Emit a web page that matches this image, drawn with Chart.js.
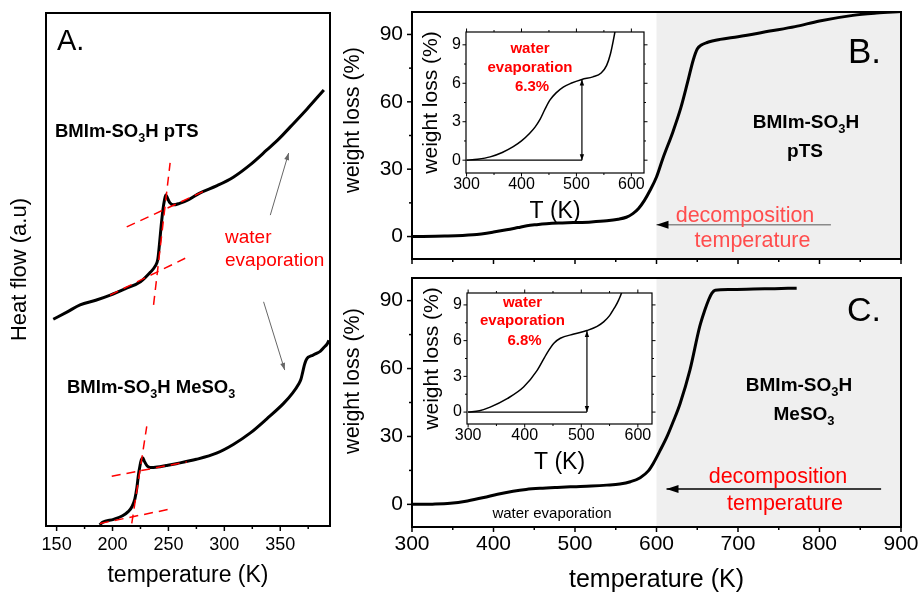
<!DOCTYPE html>
<html>
<head>
<meta charset="utf-8">
<script src="https://cdn.jsdelivr.net/npm/chart.js@4.4.1/dist/chart.umd.min.js"></script>
<style>
html, body { margin: 0; padding: 0; background: #fff; }
#fig { position: relative; width: 920px; height: 595px; }
#fig canvas { position: absolute; left: 0; top: 0; }
</style>
</head>
<body>
<div id="fig">
  <canvas id="dsc" width="920" height="595"></canvas>
  <canvas id="tgaPTS" width="920" height="595"></canvas>
  <canvas id="tgaMeSO3" width="920" height="595"></canvas>
  <canvas id="insetPTS" width="920" height="595"></canvas>
  <canvas id="insetMeSO3" width="920" height="595"></canvas>
</div>
<script>
// ---- DSC traces (A), heat flow in arbitrary units ----
const dscT_pTS = [147, 160, 171, 185, 198, 212, 225, 234, 238, 240.5, 242, 243.5, 245, 246.5, 247.7, 249, 251, 254.5, 260, 268, 278, 293, 308, 323, 338, 349, 359, 374, 389];
const dscHF_pTS = [40.3, 41.8, 43.1, 44.0, 45.0, 46.3, 47.6, 49.5, 50.6, 52.0, 55.0, 58.5, 61.5, 63.6, 64.5, 64.0, 63.1, 62.6, 62.9, 63.6, 64.9, 66.3, 68.0, 70.4, 73.3, 75.5, 77.8, 81.3, 85.0];
const dscT_MeSO3 = [188.5, 191, 201, 209, 214, 217.5, 220, 221.8, 223.2, 224.6, 225.8, 227, 228.5, 231, 234, 240, 248, 258, 275, 293, 308, 323, 338, 353, 361, 366.5, 368.5, 370, 371.5, 373, 375, 378, 382, 386, 389, 392, 393.5];
const dscHF_MeSO3 = [0.2, 0.7, 1.3, 2.0, 2.8, 3.8, 5.3, 7.5, 10.0, 11.8, 12.9, 13.3, 12.6, 11.7, 11.4, 11.5, 11.8, 12.2, 13.0, 14.2, 15.9, 18.1, 20.9, 23.9, 25.9, 27.7, 28.6, 29.9, 31.3, 32.3, 32.9, 33.2, 33.6, 34.1, 34.8, 35.5, 36.2];
// tangent lines of the glass-transition onset construction
const tangentsPTS = [[[197.8, 45.0], [265.0, 52.2]], [[236.7, 43.1], [251.5, 70.8]], [[212.7, 58.3], [281.1, 65.2]]];
const tangentsMeSO3 = [[[188.8, 0.5], [251.5, 3.3]], [[217.2, 0.5], [230.6, 19.4]], [[199.3, 9.7], [266.5, 12.5]]];
const dscTicks = [150, 200, 250, 300, 350];
const dscMinor = [175, 225, 275, 325, 375];

// ---- TGA weight loss (B, C) ----
const tgaT_pTS = [300, 340, 375, 400, 416, 430, 441, 453, 465, 480, 498, 520, 539, 553, 563, 571, 578, 585, 592, 600, 608, 620, 630, 638, 645, 650, 655, 662, 678, 700, 739, 770, 800, 841, 870, 900];
const tgaW_pTS = [0, 0.2, 0.8, 2.0, 3.0, 4.0, 4.8, 5.3, 5.7, 6.0, 6.2, 6.5, 7.0, 7.7, 8.6, 10.2, 12.5, 16, 20.5, 26.5, 35, 46.5, 57.5, 68.5, 78.5, 83.5, 85.3, 86.4, 87.8, 89.0, 91.5, 93.5, 96, 98.5, 99.5, 100.2];
const tgaT_MeSO3 = [300, 325, 347, 368, 388, 405, 424, 440, 457, 478, 498, 520, 539, 555, 568, 580, 590, 596, 604, 613, 621, 629, 641, 653, 659, 664, 668, 672, 690, 719, 745, 772];
const tgaW_MeSO3 = [0, 0.1, 0.45, 1.5, 3.0, 4.5, 5.8, 6.6, 7.1, 7.5, 7.8, 8.1, 8.5, 9.0, 10.0, 11.8, 14.8, 18.1, 23.5, 30, 37, 44.6, 59.3, 78.5, 85.5, 90.4, 93.3, 94.6, 94.9, 95.1, 95.3, 95.5];
const tgaTicksX = [300, 400, 500, 600, 700, 800, 900];
const tgaMinorX = [350, 450, 550, 650, 750, 850];
const tgaTicksY = [0, 30, 60, 90];
const tgaMinorY = [15, 45, 75];
const decompositionT = 600;

// ---- insets: low-temperature part of the TGA curves ----
const insetT_pTS = [300, 320, 343, 365, 385, 400, 415, 425, 434, 443, 452, 463, 476, 490, 510, 530, 545, 555, 562, 567, 572, 580];
const insetW_pTS = [0, 0.08, 0.26, 0.6, 1.05, 1.5, 2.1, 2.6, 3.2, 4.0, 4.7, 5.25, 5.7, 6.0, 6.3, 6.5, 6.8, 7.4, 8.3, 9.3, 10.5, 13];
const insetT_MeSO3 = [300, 320, 339, 369, 398, 422, 440, 452, 463, 487, 510, 528, 540, 550, 558, 566, 573, 582];
const insetW_MeSO3 = [0, 0.12, 0.42, 1.13, 2.1, 3.5, 5.0, 5.8, 6.2, 6.55, 6.85, 7.2, 7.6, 8.1, 8.7, 9.4, 10.3, 12.5];
const waterLossPTS = 6.3;
const waterLossMeSO3 = 6.8;
const waterLossT = 510;
const insetTicksX = [300, 400, 500, 600];
const insetMinorX = [350, 450, 550];
const insetTicksY = [0, 3, 6, 9];
const insetMinorY = [1.5, 4.5, 7.5];

const FONT = '"Liberation Sans", Arial, Helvetica, sans-serif';
const RED = '#ff0000';
const W = 920, H = 595;

Chart.defaults.font.family = FONT;
Chart.defaults.color = '#000';
Chart.defaults.animation = false;
Chart.defaults.events = [];
Chart.defaults.plugins.legend.display = false;
Chart.defaults.plugins.tooltip.enabled = false;

const pts = (xs, ys) => xs.map((x, i) => ({x, y: ys[i]}));

const curve = (xs, ys, w) => ({
  data: pts(xs, ys), borderColor: '#000', borderWidth: w,
  pointRadius: 0, cubicInterpolationMode: 'monotone', order: 2
});
const straight = (seg, color, w, dash) => ({
  data: seg.map(([x, y]) => ({x, y})), borderColor: color, borderWidth: w,
  borderDash: dash || [], pointRadius: 0, tension: 0, order: 1
});

// padding that puts the plot box at l,t,r,b with fixed axis sizes
const place = (l, t, r, b, yW, xH) => ({left: l - yW, top: t, right: W - r, bottom: H - b - xH});

function xAxis(o) {
  return {
    type: 'linear', min: o.min, max: o.max,
    grid: {display: false, drawTicks: false}, border: {display: false},
    ticks: {display: !!o.labels, font: {size: o.size}, padding: o.pad || 0, maxRotation: 0, autoSkip: false},
    title: o.title ? {display: true, text: o.title, font: {size: o.titleSize}, padding: {top: 0, bottom: o.titlePad}} : {display: false},
    afterBuildTicks: s => { s.ticks = (o.ticks || []).map(v => ({value: v})); },
    afterFit: s => { s.height = o.h; s.paddingLeft = 0; s.paddingRight = 0; }
  };
}
function yAxis(o) {
  return {
    type: 'linear', min: o.min, max: o.max,
    grid: {display: false, drawTicks: false}, border: {display: false},
    ticks: {display: !!o.labels, font: {size: o.size}, padding: o.pad || 0},
    title: o.title ? {display: true, text: o.title, font: {size: o.titleSize}, padding: {top: o.titlePad, bottom: 0}} : {display: false},
    afterBuildTicks: s => { s.ticks = (o.ticks || []).map(v => ({value: v})); },
    afterFit: s => { s.width = o.w; s.paddingTop = 0; s.paddingBottom = 0; }
  };
}

// plot frame, shaded region and outward tick marks
const framePlugin = {
  id: 'frame',
  beforeDatasetsDraw(chart, args, o) {
    if (!o.lineWidth) return;
    const {ctx, chartArea: a, scales: {x}} = chart;
    ctx.save();
    if (o.fill) { ctx.fillStyle = o.fill; ctx.fillRect(a.left, a.top, a.width, a.height); }
    if (o.shadeFrom != null) {
      const px = x.getPixelForValue(o.shadeFrom);
      ctx.fillStyle = '#efefef';
      ctx.fillRect(px, a.top, a.right - px, a.height);
    }
    ctx.restore();
  },
  afterDatasetsDraw(chart, args, o) {
    if (!o.lineWidth) return;
    const {ctx, chartArea: a, scales: {x, y}} = chart;
    ctx.save();
    ctx.strokeStyle = '#000';
    ctx.lineWidth = o.tickWidth;
    const seg = (x0, y0, x1, y1) => { ctx.beginPath(); ctx.moveTo(x0, y0); ctx.lineTo(x1, y1); ctx.stroke(); };
    const xt = [...(o.xMajor || []).map(v => [v, o.major]), ...(o.xMinor || []).map(v => [v, o.minor])];
    const yt = [...(o.yMajor || []).map(v => [v, o.major]), ...(o.yMinor || []).map(v => [v, o.minor])];
    xt.forEach(([v, len]) => {
      const p = x.getPixelForValue(v);
      seg(p, a.bottom, p, a.bottom + len);
      if (o.mirror) seg(p, a.top, p, a.top - len);
    });
    yt.forEach(([v, len]) => {
      const p = y.getPixelForValue(v);
      seg(a.left, p, a.left - len, p);
      if (o.mirror) seg(a.right, p, a.right + len, p);
    });
    ctx.lineWidth = o.lineWidth;
    ctx.strokeRect(a.left, a.top, a.width, a.height);
    ctx.restore();
  }
};

// annotation arrows given in data units
const arrowsPlugin = {
  id: 'arrows',
  afterDatasetsDraw(chart, args, o) {
    const {ctx, scales: {x, y}} = chart;
    (o.items || []).forEach(it => {
      const x0 = x.getPixelForValue(it.from[0]), y0 = y.getPixelForValue(it.from[1]);
      const x1 = x.getPixelForValue(it.to[0]), y1 = y.getPixelForValue(it.to[1]);
      ctx.save();
      ctx.strokeStyle = it.color;
      ctx.lineWidth = it.width;
      ctx.beginPath(); ctx.moveTo(x0, y0); ctx.lineTo(x1, y1); ctx.stroke();
      const head = (ax, ay, bx, by) => {
        ctx.save();
        ctx.translate(bx, by);
        ctx.rotate(Math.atan2(by - ay, bx - ax));
        ctx.beginPath(); ctx.moveTo(0, 0); ctx.lineTo(-it.len, -it.half); ctx.lineTo(-it.len, it.half); ctx.closePath();
        ctx.fillStyle = it.headColor || it.color;
        ctx.fill();
        ctx.restore();
      };
      head(x0, y0, x1, y1);
      if (it.both) head(x1, y1, x0, y0);
      ctx.restore();
    });
  }
};

// text labels, with subscript pieces
const notesPlugin = {
  id: 'notes',
  afterDraw(chart, args, o) {
    const ctx = chart.ctx;
    (o.items || []).forEach(it => {
      const segs = typeof it.text === 'string' ? [[it.text]] : it.text;
      const weight = it.bold ? 'bold ' : '';
      const fontFor = sub => weight + (sub ? it.size * 0.68 : it.size) + 'px ' + FONT;
      ctx.save();
      ctx.fillStyle = it.color || '#000';
      ctx.textBaseline = it.baseline || 'alphabetic';
      ctx.translate(it.x, it.y);
      if (it.rotate) ctx.rotate(it.rotate);
      let total = 0;
      segs.forEach(([t, sub]) => { ctx.font = fontFor(sub); total += ctx.measureText(t).width; });
      let cx = it.align === 'center' ? -total / 2 : 0;
      segs.forEach(([t, sub]) => {
        ctx.font = fontFor(sub);
        ctx.fillText(t, cx, sub ? it.size * 0.28 : 0);
        cx += ctx.measureText(t).width;
      });
      ctx.restore();
    });
  }
};

Chart.register(framePlugin, arrowsPlugin, notesPlugin);

const sulfonium = [['BMIm-SO'], ['3', 1], ['H']];

// ---------- A: DSC ----------
new Chart(document.getElementById('dsc'), {
  type: 'line',
  data: {datasets: [
    ...tangentsPTS.map(s => straight(s, RED, 1.5, [9, 6])),
    ...tangentsMeSO3.map(s => straight(s, RED, 1.5, [9, 6])),
    curve(dscT_pTS, dscHF_pTS, 3),
    curve(dscT_MeSO3, dscHF_MeSO3, 3)
  ]},
  options: {
    responsive: false,
    layout: {padding: place(46, 13, 330, 526, 46, 68)},
    scales: {
      x: xAxis({min: 140.5, max: 394.5, ticks: dscTicks, labels: true, size: 18, pad: 8, title: 'temperature (K)', titleSize: 23, titlePad: 5, h: 68}),
      y: yAxis({min: 0, max: 100, w: 46, title: 'Heat flow (a.u)', titleSize: 22, titlePad: 7})
    },
    plugins: {
      frame: {lineWidth: 2, tickWidth: 1.5, major: 5, minor: 3, xMajor: dscTicks, xMinor: dscMinor},
      arrows: {items: [
        {from: [341.1, 60.6], to: [357.5, 72.7], color: '#666', width: 1, len: 7, half: 2.5},
        {from: [335.1, 43.7], to: [354.0, 30.4], color: '#666', width: 1, len: 7, half: 2.5}
      ]},
      notes: {items: [
        {text: 'A.', x: 57, y: 50, size: 29},
        {text: [...sulfonium, [' pTS']], x: 55, y: 137, size: 18.5, bold: true},
        {text: [...sulfonium, [' MeSO'], ['3', 1]], x: 67, y: 393, size: 18.5, bold: true},
        {text: 'water', x: 225, y: 243, size: 19, color: RED},
        {text: 'evaporation', x: 225, y: 266, size: 19, color: RED}
      ]}
    }
  }
});

// ---------- B: TGA, pTS ----------
new Chart(document.getElementById('tgaPTS'), {
  type: 'line',
  data: {datasets: [curve(tgaT_pTS, tgaW_pTS, 3)]},
  options: {
    responsive: false,
    layout: {padding: place(412, 12, 901, 259, 72, 0)},
    scales: {
      x: xAxis({min: 300, max: 900, ticks: tgaTicksX, h: 0}),
      y: yAxis({min: -10, max: 100, ticks: tgaTicksY, labels: true, size: 21, pad: 9, w: 72})
    },
    plugins: {
      frame: {lineWidth: 2, tickWidth: 1.5, major: 5, minor: 3, xMajor: tgaTicksX, xMinor: tgaMinorX, yMajor: tgaTicksY, yMinor: tgaMinorY, shadeFrom: decompositionT},
      arrows: {items: [
        {from: [814, 5.2], to: [decompositionT, 5.2], color: '#8a8a8a', headColor: '#000', width: 1.5, len: 12, half: 4}
      ]},
      notes: {items: [
        {text: 'weight loss (%)', x: 353, y: 120, size: 21.5, align: 'center', baseline: 'middle', rotate: -Math.PI / 2},
        {text: 'B.', x: 848, y: 63, size: 35},
        {text: sulfonium, x: 806, y: 128, size: 19, bold: true, align: 'center'},
        {text: 'pTS', x: 805, y: 157, size: 19, bold: true, align: 'center'},
        {text: 'decomposition', x: 745, y: 221.5, size: 21.5, color: '#ff4d4d', align: 'center'},
        {text: 'temperature', x: 752.5, y: 246.5, size: 21.5, color: '#ff4d4d', align: 'center'}
      ]}
    }
  }
});

// ---------- C: TGA, MeSO3 ----------
new Chart(document.getElementById('tgaMeSO3'), {
  type: 'line',
  data: {datasets: [curve(tgaT_MeSO3, tgaW_MeSO3, 3)]},
  options: {
    responsive: false,
    layout: {padding: place(412, 278, 901, 527, 72, 68)},
    scales: {
      x: xAxis({min: 300, max: 900, ticks: tgaTicksX, labels: true, size: 21, pad: 5, title: 'temperature (K)', titleSize: 25, titlePad: 0, h: 68}),
      y: yAxis({min: -10, max: 100, ticks: tgaTicksY, labels: true, size: 21, pad: 9, w: 72})
    },
    plugins: {
      frame: {lineWidth: 2, tickWidth: 1.5, major: 5, minor: 3, xMajor: tgaTicksX, xMinor: tgaMinorX, yMajor: tgaTicksY, yMinor: tgaMinorY, shadeFrom: decompositionT},
      arrows: {items: [
        {from: [875.6, 6.8], to: [612.3, 6.8], color: '#000', width: 1.5, len: 12, half: 4}
      ]},
      notes: {items: [
        {text: 'weight loss (%)', x: 353, y: 381, size: 21.5, align: 'center', baseline: 'middle', rotate: -Math.PI / 2},
        {text: 'C.', x: 847, y: 321, size: 34},
        {text: sulfonium, x: 799, y: 390.5, size: 19, bold: true, align: 'center'},
        {text: [['MeSO'], ['3', 1]], x: 804, y: 420, size: 19, bold: true, align: 'center'},
        {text: 'decomposition', x: 778, y: 483, size: 21.5, color: RED, align: 'center'},
        {text: 'temperature', x: 785, y: 510, size: 21.5, color: RED, align: 'center'},
        {text: 'water evaporation', x: 552, y: 518, size: 15, align: 'center'}
      ]}
    }
  }
});

// ---------- insets ----------
function inset(id, box, xs, ys, loss, xMin, xMax, textX, textY) {
  return new Chart(document.getElementById(id), {
    type: 'line',
    data: {datasets: [
      straight([[300, 0], [waterLossT, 0]], '#000', 1.2),
      curve(xs, ys, 1.5)
    ]},
    options: {
      responsive: false,
      layout: {padding: place(box[0], box[1], box[2], box[3], 50, 52)},
      scales: {
        x: xAxis({min: xMin, max: xMax, ticks: insetTicksX, labels: true, size: 16, pad: 2, title: 'T (K)', titleSize: 23, titlePad: 0, h: 52}),
        y: yAxis({min: -1, max: 10, ticks: insetTicksY, labels: true, size: 16, pad: 5, w: 50, title: 'weight loss (%)', titleSize: 21, titlePad: 2.4})
      },
      plugins: {
        frame: {lineWidth: 1.2, tickWidth: 1, major: 3.5, minor: 2, mirror: true, fill: '#fff',
          xMajor: insetTicksX, xMinor: insetMinorX, yMajor: insetTicksY, yMinor: insetMinorY},
        arrows: {items: [
          {from: [waterLossT, 0], to: [waterLossT, loss], color: '#000', width: 1.2, len: 6, half: 2.2, both: true}
        ]},
        notes: {items: [
          {text: 'water', x: textX, y: textY, size: 15, bold: true, color: RED, align: 'center'},
          {text: 'evaporation', x: textX, y: textY + 18.5, size: 15, bold: true, color: RED, align: 'center'},
          {text: loss + '%', x: textX + 2, y: textY + 38, size: 15, bold: true, color: RED, align: 'center'}
        ]}
      }
    }
  });
}

inset('insetPTS', [466, 32, 644, 173], insetT_pTS, insetW_pTS, waterLossPTS, 299, 623, 530, 53);
inset('insetMeSO3', [467, 293, 652, 424], insetT_MeSO3, insetW_MeSO3, waterLossMeSO3, 298, 625, 522.5, 306.5);
</script>
</body>
</html>
